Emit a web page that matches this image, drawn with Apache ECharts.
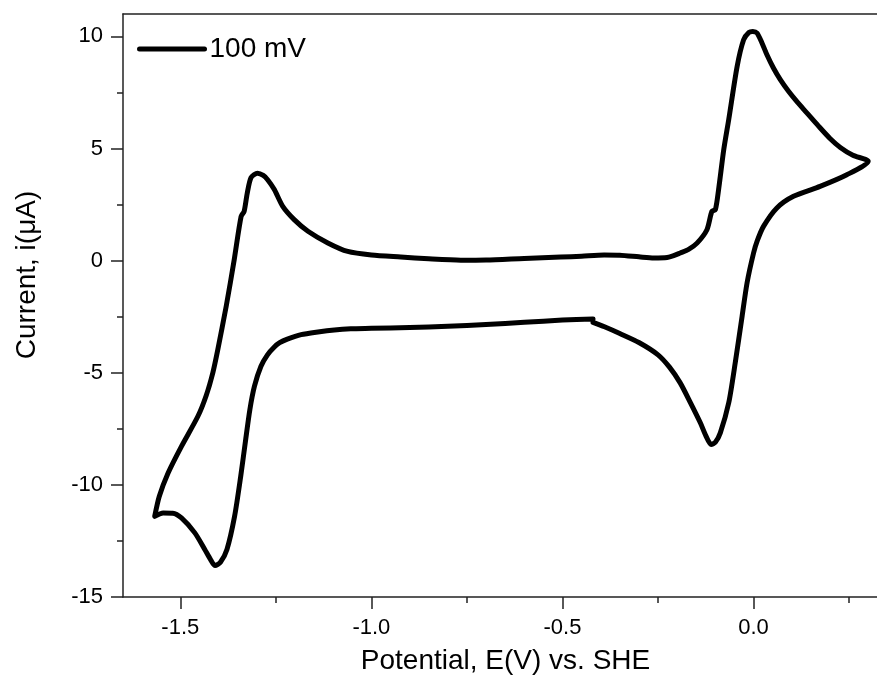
<!DOCTYPE html>
<html>
<head>
<meta charset="utf-8">
<script src="https://cdn.jsdelivr.net/npm/echarts@6/dist/echarts.min.js"></script>
<style>
  html, body { margin: 0; padding: 0; background: #fff; }
  #chart { width: 877px; height: 686px; }
</style>
</head>
<body>
<div id="chart"></div>
<script>
// 100 mV/s sweep, E (V vs SHE) and i (uA), in scan order
var potential = [
  -0.42, -0.5, -0.6, -0.7, -0.8, -0.9, -1.0, -1.054, -1.097, -1.14, -1.184, -1.22, -1.24, -1.254,
  -1.272, -1.289, -1.306, -1.318, -1.329, -1.342, -1.358, -1.378, -1.395, -1.409, -1.422, -1.436,
  -1.462, -1.497, -1.52, -1.545, -1.567,
  -1.555, -1.532, -1.497, -1.454, -1.432, -1.415, -1.402, -1.38, -1.359, -1.341, -1.333, -1.325,
  -1.315, -1.298, -1.283, -1.271, -1.254, -1.232, -1.202, -1.166, -1.114, -1.062, -1.0, -0.923,
  -0.85, -0.766, -0.7, -0.6, -0.505, -0.45, -0.391, -0.35, -0.3, -0.261, -0.226, -0.209, -0.192,
  -0.17, -0.148, -0.122, -0.109, -0.1, -0.0915, -0.078, -0.065, -0.043, -0.026, -0.012, -0.002,
  0.009, 0.022, 0.035, 0.052, 0.07, 0.0915, 0.113, 0.14, 0.17, 0.2, 0.227, 0.26, 0.3,
  0.244, 0.174, 0.1045, 0.061, 0.026, 0.01, 0.0, -0.017, -0.03, -0.048, -0.065, -0.087, -0.1,
  -0.111, -0.125, -0.139, -0.165, -0.192, -0.22, -0.25, -0.3, -0.35, -0.39, -0.42
];
var current = [
  -2.6, -2.65, -2.75, -2.85, -2.93, -2.98, -3.02, -3.04, -3.09, -3.18, -3.3, -3.5, -3.66, -3.85,
  -4.2, -4.71, -5.6, -6.64, -7.98, -9.62, -11.4, -12.88, -13.45, -13.6, -13.3, -12.88,
  -12.14, -11.47, -11.26, -11.25, -11.4,
  -10.51, -9.47, -8.28, -6.94, -6.0, -5.0, -3.97, -2.04, 0.04, 1.97, 2.2, 3.0,
  3.7, 3.9, 3.8, 3.6, 3.17, 2.42, 1.83, 1.31, 0.79, 0.41, 0.25, 0.16,
  0.08, 0.02, 0.03, 0.1, 0.16, 0.2, 0.25, 0.24, 0.17, 0.12, 0.14, 0.22, 0.34,
  0.5, 0.78, 1.38, 2.2, 2.27, 3.17, 4.95, 6.29, 8.66, 9.85, 10.18, 10.22,
  10.15, 9.71, 9.18, 8.59, 8.07, 7.55, 7.1, 6.58, 6.0, 5.45, 5.05, 4.7, 4.43,
  3.83, 3.31, 2.87, 2.35, 1.53, 0.9, 0.34, -0.99, -2.48, -4.56, -6.34, -7.68, -8.1,
  -8.2, -7.8, -7.24, -6.34, -5.45, -4.75, -4.2, -3.65, -3.25, -2.95, -2.75
];
var xMajorTicks = [-1.5, -1.0, -0.5, 0.0];
var xMinorTicks = [-1.25, -0.75, -0.25, 0.25];
var yMajorTicks = [-15, -10, -5, 0, 5, 10];
var yMinorTicks = [-12.5, -7.5, -2.5, 2.5, 7.5];

var xMin = -1.65, xMax = 0.323;
var yMin = -15, yMax = 11;

var cvData = potential.map(function (e, i) { return [e, current[i]]; });

var fontFam = 'Liberation Sans, Arial, sans-serif';
var axisColor = '#222';

var chart = echarts.init(document.getElementById('chart'));

chart.setOption({
  animation: false,
  backgroundColor: '#fff',
  grid: { left: 123, right: 0, top: 14, bottom: 89 },
  legend: {
    data: ['100 mV'],
    left: 137,
    top: 35,
    padding: 0,
    itemWidth: 65,
    itemHeight: 28,
    itemGap: 0,
    itemStyle: { opacity: 0 },
    lineStyle: { width: 5, cap: 'round' },
    textStyle: { fontSize: 28, fontFamily: fontFam, color: '#000' }
  },
  xAxis: [
    {
      type: 'value', position: 'bottom', min: xMin, max: xMax,
      name: 'Potential, E(V) vs. SHE', nameLocation: 'middle', nameGap: 50,
      nameTextStyle: { fontSize: 28, fontFamily: fontFam, color: '#000', padding: [0, 0, 0, 11] },
      axisLine: { show: true, onZero: false, lineStyle: { color: axisColor, width: 1.5 } },
      axisTick: { show: true, inside: false, length: 12, customValues: xMajorTicks,
        lineStyle: { color: axisColor, width: 1.5 } },
      axisLabel: { customValues: xMajorTicks, margin: 20, fontSize: 22, fontFamily: fontFam, color: '#000',
        formatter: function (v) { return v.toFixed(1); } },
      splitLine: { show: false }
    },
    {
      type: 'value', position: 'bottom', min: xMin, max: xMax,
      axisLine: { show: false, onZero: false },
      axisTick: { show: true, inside: false, length: 6, customValues: xMinorTicks,
        lineStyle: { color: axisColor, width: 1.5 } },
      axisLabel: { show: false },
      splitLine: { show: false }
    },
    {
      type: 'value', position: 'top', min: xMin, max: xMax,
      axisLine: { show: true, onZero: false, lineStyle: { color: axisColor, width: 1.5 } },
      axisTick: { show: false },
      axisLabel: { show: false },
      splitLine: { show: false }
    }
  ],
  yAxis: [
    {
      type: 'value', position: 'left', min: yMin, max: yMax,
      axisLine: { show: true, onZero: false, lineStyle: { color: axisColor, width: 1.5 } },
      axisTick: { show: true, inside: false, length: 12, customValues: yMajorTicks,
        lineStyle: { color: axisColor, width: 1.5 } },
      axisLabel: { customValues: yMajorTicks, margin: 20, fontSize: 22, fontFamily: fontFam, color: '#000' },
      splitLine: { show: false }
    },
    {
      type: 'value', position: 'left', min: yMin, max: yMax,
      axisLine: { show: false, onZero: false },
      axisTick: { show: true, inside: false, length: 6, customValues: yMinorTicks,
        lineStyle: { color: axisColor, width: 1.5 } },
      axisLabel: { show: false },
      splitLine: { show: false }
    }
  ],
  graphic: [
    {
      type: 'text', x: 27, y: 275, rotation: Math.PI / 2,
      style: { text: 'Current, i(\u03bcA)', fontSize: 28, fontFamily: fontFam, fill: '#000',
        align: 'center', verticalAlign: 'middle' }
    }
  ],
  series: [
    {
      name: '100 mV',
      type: 'line',
      xAxisIndex: 0,
      yAxisIndex: 0,
      data: cvData,
      showSymbol: false,
      symbol: 'none',
      smooth: 0.25,
      lineStyle: { color: '#000', width: 5, join: 'round', cap: 'round' },
      itemStyle: { color: '#000' }
    }
  ]
});
</script>
</body>
</html>
